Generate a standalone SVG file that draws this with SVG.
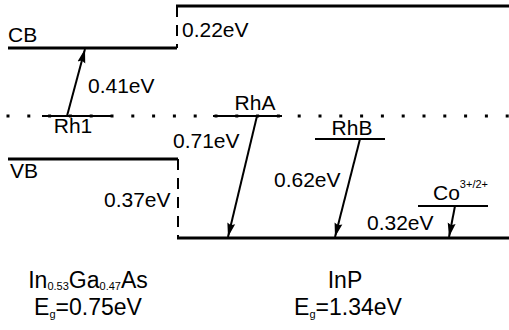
<svg xmlns="http://www.w3.org/2000/svg" width="509" height="330" viewBox="0 0 509 330">
<defs>
<style>
.band{stroke:#000;stroke-width:3;fill:none}
.lvl{stroke:#000;stroke-width:2;fill:none}
.dash{stroke:#000;stroke-width:2;fill:none;stroke-dasharray:11 8}
.dot{stroke:#000;stroke-width:3;fill:none;stroke-dasharray:3 17.8}
.arr{stroke:#000;stroke-width:2;fill:none;marker-end:url(#ah)}
text{font-family:"Liberation Sans",Arial,sans-serif;font-size:21px;fill:#000}
.big{font-size:23px}
.sub{font-size:11px}
</style>
<marker id="ah" viewBox="0 0 14 10" refX="14" refY="5" markerWidth="14" markerHeight="10" markerUnits="userSpaceOnUse" orient="auto">
<path d="M0,1 L14,5 L0,9 L2,5 Z" fill="#000"/>
</marker>
</defs>
<g id="ingaas-cb"><line class="band" x1="8" y1="48" x2="177" y2="48"/><text x="8" y="42">CB</text></g>
<g id="inp-cb"><line class="band" x1="176" y1="6" x2="509" y2="6"/></g>
<g id="ingaas-vb"><line class="band" x1="8" y1="159" x2="178" y2="159"/><text x="10" y="178">VB</text></g>
<g id="inp-vb"><line class="band" x1="177" y1="238" x2="509" y2="238"/></g>
<g id="fermi"><line class="dot" x1="6.5" y1="116" x2="509" y2="116"/></g>
<g id="rh1"><line class="lvl" x1="42" y1="116" x2="113" y2="116"/><text x="73" y="133" text-anchor="middle">Rh1</text></g>
<g id="rha"><line class="lvl" x1="213" y1="116" x2="282" y2="116"/><text x="255" y="110" text-anchor="middle">RhA</text></g>
<g id="rhb"><line class="lvl" x1="315" y1="139" x2="385" y2="139"/><text x="352" y="135" text-anchor="middle">RhB</text></g>
<g id="co"><line class="lvl" x1="418" y1="206" x2="488" y2="206"/><text x="433" y="200">Co<tspan class="sub" dy="-12">3+/2+</tspan></text></g>
<g id="connectors">
<line class="dash" x1="177" y1="6" x2="177" y2="48"/>
<line class="dash" x1="178" y1="159" x2="178" y2="238"/>
<line class="arr" x1="67" y1="116" x2="85" y2="49"/>
<line class="arr" x1="257" y1="116" x2="228" y2="237"/>
<line class="arr" x1="360" y1="139" x2="335" y2="237"/>
<line class="arr" x1="455" y1="206" x2="449" y2="237"/>
</g>
<g id="labels">
<text x="182" y="37">0.22eV</text>
<text x="88" y="93">0.41eV</text>
<text x="173" y="148">0.71eV</text>
<text x="104" y="207">0.37eV</text>
<text x="274" y="187">0.62eV</text>
<text x="367" y="230">0.32eV</text>
<text class="big" x="88" y="288" text-anchor="middle">In<tspan class="sub" dy="2">0.53</tspan><tspan dy="-2">Ga</tspan><tspan class="sub" dy="2">0.47</tspan><tspan dy="-2">As</tspan></text>
<text class="big" x="88" y="315" text-anchor="middle">E<tspan class="sub" dy="3">g</tspan><tspan dy="-3">=0.75eV</tspan></text>
<text class="big" x="345" y="288" text-anchor="middle">InP</text>
<text class="big" x="348" y="315" text-anchor="middle">E<tspan class="sub" dy="3">g</tspan><tspan dy="-3">=1.34eV</tspan></text>
</g>
</svg>
